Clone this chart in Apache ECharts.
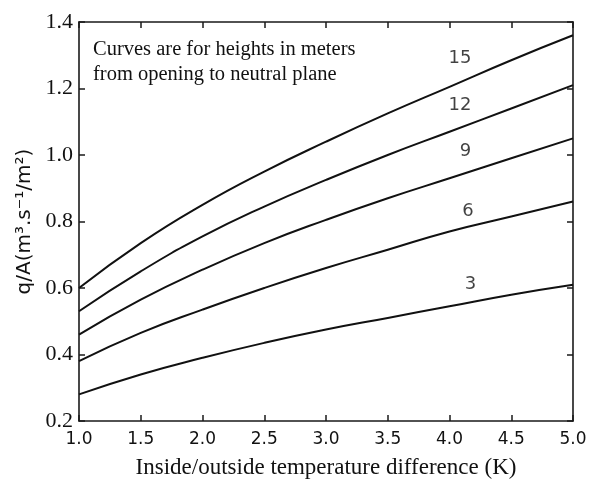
<!DOCTYPE html>
<html>
<head>
<meta charset="utf-8">
<script src="https://cdn.jsdelivr.net/npm/echarts@6/dist/echarts.min.js"></script>
<style>html,body{margin:0;padding:0;background:#fff;}#c{width:593px;height:479px;}</style>
</head>
<body>
<div id="c"></div>
<script>
const xValues = [1.0, 1.5, 2.0, 2.5, 3.0, 3.5, 4.0, 4.5, 5.0];
const h3  = [0.28, 0.34, 0.39, 0.435, 0.475, 0.51, 0.545, 0.58, 0.61];
const h6  = [0.38, 0.465, 0.535, 0.60, 0.66, 0.715, 0.77, 0.815, 0.86];
const h9  = [0.46, 0.565, 0.655, 0.735, 0.805, 0.87, 0.93, 0.99, 1.05];
const h12 = [0.53, 0.65, 0.755, 0.845, 0.925, 1.00, 1.07, 1.14, 1.21];
const h15 = [0.60, 0.735, 0.85, 0.95, 1.04, 1.125, 1.205, 1.285, 1.36];
const curveNames = ['3', '6', '9', '12', '15'];
const curveData = [h3, h6, h9, h12, h15];
// label anchor points (data coords) for the curve names
const labelX = [4.17, 4.15, 4.13, 4.085, 4.085];
const labelY = [0.61, 0.83, 1.01, 1.15, 1.292];

const chart = echarts.init(document.getElementById('c'));
const axisLine = {show: true, lineStyle: {color: '#1a1a1a', width: 1.6}};
const tick = {show: true, inside: true, length: 6, lineStyle: {color: '#1a1a1a', width: 1.5}};
const series = curveData.map((d, i) => ({
  type: 'line',
  name: curveNames[i],
  data: xValues.map((x, j) => [x, d[j]]),
  smooth: 0.5,
  showSymbol: false,
  lineStyle: {color: '#111', width: 2},
  silent: true,
  z: 3
}));
series.push({
  type: 'scatter',
  data: labelX.map((x, i) => [x, labelY[i], curveNames[i]]),
  symbolSize: 0,
  label: {show: true, position: 'inside', formatter: p => p.data[2], color: '#111', fontFamily: 'DejaVu Sans', fontSize: 18},
  silent: true
});
chart.setOption({
  animation: false,
  backgroundColor: '#fff',
  grid: {left: 79, right: 20, top: 22, bottom: 58, containLabel: false, outerBoundsMode: 'none'},
  xAxis: [{
    type: 'value', min: 1, max: 5, interval: 0.5,
    axisLine: axisLine, axisTick: tick,
    splitLine: {show: false},
    axisLabel: {formatter: v => v.toFixed(1), color: '#111', fontFamily: 'DejaVu Sans', fontSize: 17, margin: 10},
    name: 'Inside/outside temperature difference (K)',
    nameLocation: 'middle', nameGap: 35,
    nameTextStyle: {color: '#111', fontFamily: 'Liberation Serif', fontSize: 23}
  }, {
    type: 'value', position: 'top', min: 1, max: 5, interval: 0.5,
    axisLine: axisLine, axisTick: tick,
    axisLabel: {show: false}, splitLine: {show: false}
  }],
  yAxis: [{
    type: 'value', min: 0.2, max: 1.4, interval: 0.2,
    axisLine: axisLine, axisTick: tick,
    splitLine: {show: false},
    axisLabel: {formatter: v => v.toFixed(1), color: '#111', fontFamily: 'Liberation Serif', fontSize: 22, margin: 6},
    name: 'q/A(m³.s⁻¹/m²)',
    nameLocation: 'middle', nameGap: 43, nameRotate: 90,
    nameTextStyle: {color: '#111', fontFamily: 'DejaVu Sans', fontSize: 20}
  }, {
    type: 'value', position: 'right', min: 0.2, max: 1.4, interval: 0.2,
    axisLine: axisLine, axisTick: tick,
    axisLabel: {show: false}, splitLine: {show: false}
  }],
  graphic: [{
    type: 'text', left: 93, top: 37,
    style: {text: 'Curves are for heights in meters\nfrom opening to neutral plane', fill: '#111', fontFamily: 'Liberation Serif', fontSize: 20.5, lineHeight: 25}
  }],
  series: series
});
</script>
</body>
</html>
